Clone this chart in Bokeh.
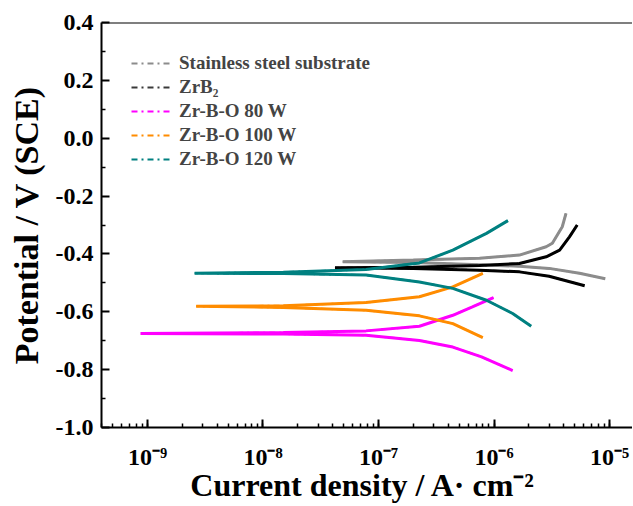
from bokeh.plotting import figure
from bokeh.models import (Range1d, FixedTicker, PrintfTickFormatter, CustomJSTickFormatter,
                          Legend, LegendItem, Span, LogTicker)
from bokeh.embed import file_html
from bokeh.resources import INLINE

# ---- data (current density A/cm2, potential V vs SCE), path: anodic end -> Ecorr -> cathodic end
ss_i = [4.2e-6, 3.9e-6, 3.2e-6, 2.83e-6, 1.66e-6, 7.5e-7, 2e-7, 4.9e-8,
        2e-7, 7.5e-7, 1.66e-6, 3.0e-6, 5.5e-6, 9.2e-6]
ss_e = [-0.260, -0.306, -0.363, -0.375, -0.404, -0.415, -0.421, -0.427,
        -0.430, -0.437, -0.443, -0.450, -0.467, -0.486]

zrb2_i = [5.25e-6, 4.5e-6, 3.7e-6, 2.83e-6, 1.66e-6, 7.5e-7, 2e-7, 4.2e-8,
          2e-7, 7.5e-7, 1.66e-6, 3.0e-6, 6.1e-6]
zrb2_e = [-0.300, -0.341, -0.387, -0.410, -0.433, -0.440, -0.446, -0.448,
          -0.450, -0.456, -0.462, -0.477, -0.510]

w80_i = [9.9e-7, 6.5e-7, 4.4e-7, 2.26e-7, 7.8e-8, 1.5e-8, 8.7e-10,
         1.5e-8, 7.8e-8, 2.26e-7, 4.4e-7, 7.8e-7, 1.45e-6]
w80_e = [-0.551, -0.583, -0.612, -0.650, -0.666, -0.672, -0.675,
         -0.677, -0.681, -0.699, -0.722, -0.756, -0.803]

w100_i = [8.0e-7, 4.4e-7, 2.26e-7, 7.8e-8, 1.5e-8, 2.64e-9,
          1.5e-8, 7.8e-8, 2.26e-7, 4.4e-7, 8.0e-7]
w100_e = [-0.467, -0.514, -0.548, -0.568, -0.579, -0.581,
          -0.585, -0.595, -0.614, -0.641, -0.689]

w120_i = [1.32e-6, 8.6e-7, 4.4e-7, 2.26e-7, 7.8e-8, 1.5e-8, 2.56e-9,
          1.5e-8, 7.8e-8, 2.26e-7, 4.4e-7, 8.6e-7, 1.45e-6, 2.1e-6]
w120_e = [-0.285, -0.329, -0.387, -0.431, -0.454, -0.463, -0.467,
          -0.468, -0.473, -0.497, -0.519, -0.560, -0.606, -0.650]

series_names = ["Stainless steel substrate", "ZrB\u2082", "Zr-B-O 80 W", "Zr-B-O 100 W", "Zr-B-O 120 W"]
series_colors = ["#8c8c8c", "#000000", "#ff00ff", "#ff8c00", "#008080"]
legend_colors = ["#8c8c8c", "#3a3a3a", "#ff00ff", "#ff8c00", "#008080"]

y_ticks = [-1.0, -0.8, -0.6, -0.4, -0.2, 0.0, 0.2, 0.4]
y_minor = [-0.9, -0.7, -0.5, -0.3, -0.1, 0.1, 0.3]
x_lo, x_hi = 10 ** -9.398, 10 ** -4.801
y_lo, y_hi = -1.0, 0.4

FONT = "Liberation Serif"

p = figure(width=632, height=505, output_backend="svg", toolbar_location=None,
           x_axis_type="log", x_range=Range1d(x_lo, x_hi), y_range=Range1d(y_lo, y_hi),
           min_border_left=101, min_border_right=0, min_border_top=22, min_border_bottom=78)
p.outline_line_color = None
p.xgrid.visible = False
p.ygrid.visible = False
p.background_fill_color = "white"

data = [(ss_i, ss_e), (zrb2_i, zrb2_e), (w80_i, w80_e), (w100_i, w100_e), (w120_i, w120_e)]
items = []
for (xi, ye), c, lc, name in zip(data, series_colors, legend_colors, series_names):
    # dash-dot renderer (hidden underneath the solid curve) provides the legend sample
    r = p.line(xi, ye, line_color=lc, line_width=2, line_dash="dashdot")
    p.line(xi, ye, line_color=c, line_width=3)
    items.append(LegendItem(label=name, renderers=[r]))

legend = Legend(items=items, location="top_left")
legend.border_line_color = None
legend.background_fill_alpha = 0
legend.margin = 30
legend.padding = 10
legend.spacing = 2
legend.label_height = 22
legend.glyph_height = 22
legend.glyph_width = 40
legend.label_standoff = 8
legend.label_text_font = FONT
legend.label_text_font_style = "bold"
legend.label_text_font_size = "19px"
p.add_layout(legend)

# top border
p.add_layout(Span(location=y_hi, dimension="width", line_color="black", line_width=2))

# y axis
ya = p.yaxis[0]
ya.ticker = FixedTicker(ticks=y_ticks, minor_ticks=y_minor)
ya.formatter = PrintfTickFormatter(format="%.1f")
ya.axis_label = "Potential / V (SCE)"

# x axis
xa = p.xaxis[0]
xa.ticker = LogTicker(desired_num_ticks=6, num_minor_ticks=10)
xa.formatter = CustomJSTickFormatter(code="""
const e = Math.round(Math.log10(tick));
const sup = {"-":"\u207b","0":"\u2070","1":"\u00b9","2":"\u00b2","3":"\u00b3","4":"\u2074",
             "5":"\u2075","6":"\u2076","7":"\u2077","8":"\u2078","9":"\u2079"};
return "10" + String(e).split("").map(c => sup[c]).join("");
""")
xa.axis_label = "Current density / A\u00b7  cm\u207b\u00b2"

for ax in (xa, ya):
    ax.axis_line_width = 2
    ax.axis_line_color = "black"
    ax.major_tick_in = 8
    ax.major_tick_out = 0
    ax.minor_tick_in = 4
    ax.minor_tick_out = 0
    ax.major_tick_line_width = 2
    ax.minor_tick_line_width = 1.5
    ax.major_label_text_font = FONT
    ax.major_label_text_font_style = "bold"
    ax.major_label_text_color = "black"
    ax.axis_label_text_font = FONT
    ax.axis_label_text_font_style = "bold"
    ax.axis_label_text_color = "black"

ya.major_label_text_font_size = "24px"
xa.major_label_text_font_size = "24px"
ya.major_label_standoff = 8
xa.major_label_standoff = 16
ya.axis_label_text_font_size = "34px"
xa.axis_label_text_font_size = "32px"
ya.axis_label_standoff = 8
xa.axis_label_standoff = -6

open("out.html", "w").write(file_html(p, INLINE))
